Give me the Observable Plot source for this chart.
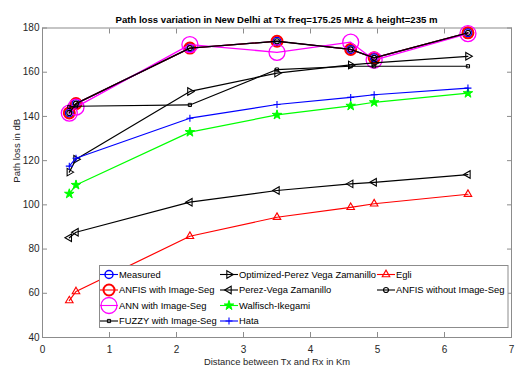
<!DOCTYPE html>
<html><head><meta charset="utf-8">
<script src="https://cdn.jsdelivr.net/npm/d3@7"></script>
<script src="https://cdn.jsdelivr.net/npm/@observablehq/plot@0.6"></script>
<style>
body{margin:0;background:#fff;font-family:"Liberation Sans",Arial,sans-serif;}
#wrap{position:relative;width:516px;height:369px;overflow:hidden;}
#title{height:27px;width:516px;position:relative;}
#title span{position:absolute;left:42px;width:469px;text-align:center;top:14px;font-weight:bold;font-size:9.6px;line-height:12px;color:#000;white-space:nowrap;}
#legend{position:absolute;left:0;top:0;pointer-events:none;}
</style></head><body>
<div id="wrap"><div id="title"><span id="titleText"></span></div><div id="chart"></div><svg id="legend" width="516" height="369"></svg></div>
<script>
const titleText = "Path loss variation in New Delhi at Tx freq=175.25 MHz & height=235 m";
const xLabel = "Distance between Tx and Rx in Km";
const yLabel = "Path loss in dB";
const xTicks = [0, 1, 2, 3, 4, 5, 6, 7];
const yTicks = [40, 60, 80, 100, 120, 140, 160, 180];

const distance = [0.4, 0.5, 2.2, 3.5, 4.6, 4.95, 6.35];
const measured = [141.6, 145.8, 170.9, 174.0, 170.3, 166.5, 177.8];
const anfisSeg = [141.6, 145.8, 170.9, 174.0, 170.3, 166.5, 177.8];
const annSeg = [141.5, 144.2, 172.5, 169.0, 173.6, 165.5, 177.5];
const fuzzySeg = [144.3, 144.6, 145.2, 161.2, 162.7, 162.7, 162.7];
const optPerez = [114.8, 120.6, 151.3, 159.6, 163.3, 164.2, 167.2];
const perezVega = [85.1, 87.6, 101.2, 106.5, 109.5, 110.2, 113.7];
const walfisch = [105.0, 109.0, 132.9, 140.7, 144.8, 146.4, 150.5];
const hata = [117.5, 121.1, 139.2, 145.4, 148.6, 149.8, 152.8];
const egli = [56.7, 60.8, 85.8, 94.4, 98.9, 100.5, 104.8];
const anfisNoSeg = [141.6, 145.8, 170.9, 174.0, 170.3, 166.5, 177.8];

const series = [
  {name: "Measured", values: measured, color: "#0000ff", symbol: "circle", r: 4, sw: 1.5, lw: 1.2},
  {name: "ANFIS with Image-Seg", values: anfisSeg, color: "#ff0000", symbol: "circle", r: 5.5, sw: 2, lw: 1.2},
  {name: "ANN with Image-Seg", values: annSeg, color: "#ff00ff", symbol: "circle", r: 8, sw: 1.3, lw: 1.3},
  {name: "FUZZY with Image-Seg", values: fuzzySeg, color: "#000000", symbol: "square", r: 1.8, sw: 1, lw: 1.2},
  {name: "Optimized-Perez Vega Zamanillo", values: optPerez, color: "#000000", symbol: "triangle", r: 2.8, sw: 1.1, lw: 1.2, rotate: 90},
  {name: "Perez-Vega Zamanillo", values: perezVega, color: "#000000", symbol: "triangle", r: 2.8, sw: 1.1, lw: 1.2, rotate: -90},
  {name: "Walfisch-Ikegami", values: walfisch, color: "#00ff00", symbol: "star", r: 3, sw: 1, lw: 1.2, fill: "#00ff00"},
  {name: "Hata", values: hata, color: "#0000ff", symbol: "plus", r: 2.4, sw: 1.1, lw: 1.2},
  {name: "Egli", values: egli, color: "#ff0000", symbol: "triangle", r: 2.8, sw: 1.1, lw: 1.2},
  {name: "ANFIS without Image-Seg", values: anfisNoSeg, color: "#000000", symbol: "circle", r: 2.5, sw: 1.2, lw: 1.3}
];

document.getElementById("titleText").textContent = titleText;

const marks = [Plot.frame({stroke: "#8c8c8c"})];
series.forEach(s => {
  const rows = distance.map((d, i) => ({x: d, y: s.values[i]}));
  marks.push(Plot.line(rows, {x: "x", y: "y", stroke: s.color, strokeWidth: s.lw}));
  marks.push(Plot.dot(rows, {x: "x", y: "y", symbol: s.symbol, r: s.r, stroke: s.color, strokeWidth: s.sw, fill: s.fill || "none", rotate: s.rotate || 0}));
});
marks.push(
  Plot.axisX({ticks: xTicks, tickSize: 0, tickPadding: 8, tickFormat: d => d, label: null, fontSize: 10}),
  Plot.axisX({ticks: xTicks, tickSize: -5, tickFormat: () => "", label: null, stroke: "#8c8c8c"}),
  Plot.axisX({anchor: "top", ticks: xTicks, tickSize: -5, tickFormat: () => "", label: null, stroke: "#8c8c8c"}),
  Plot.axisY({ticks: yTicks, tickSize: 0, tickPadding: 3, tickFormat: d => d, label: null, fontSize: 10}),
  Plot.axisY({ticks: yTicks, tickSize: -5, tickFormat: () => "", label: null, stroke: "#8c8c8c"}),
  Plot.axisY({anchor: "right", ticks: yTicks, tickSize: -5, tickFormat: () => "", label: null, stroke: "#8c8c8c"}),
  Plot.text([xLabel], {text: d => d, frameAnchor: "bottom", dy: 27.5, fontSize: 9.4, fill: "#262626"}),
  Plot.text([yLabel], {text: d => d, frameAnchor: "left", dx: -26, rotate: -90, fontSize: 9.6, fill: "#262626"})
);

const chart = Plot.plot({
  width: 516,
  height: 342,
  marginLeft: 42,
  marginRight: 5,
  marginTop: 0.5,
  marginBottom: 32,
  x: {domain: [0, 7]},
  y: {domain: [40, 180]},
  style: {fontFamily: "'Liberation Sans', Arial, sans-serif", fontSize: "10px", color: "#262626", overflow: "visible", background: "transparent"},
  marks
});
document.getElementById("chart").appendChild(chart);

// legend
const lg = d3.select("#legend");
lg.append("rect").attr("x", 99.5).attr("y", 265.5).attr("width", 408.5).attr("height", 62)
  .attr("fill", "#fff").attr("stroke", "#8c8c8c").attr("stroke-width", 1);
const symMap = {circle: d3.symbolCircle, square: d3.symbolSquare, triangle: d3.symbolTriangle, star: d3.symbolStar, plus: d3.symbolPlus};
const colX = [100, 220, 377];
const rowY = [274.5, 290, 305.5, 321];
series.forEach((s, i) => {
  const col = i < 4 ? 0 : (i < 8 ? 1 : 2);
  const row = i < 4 ? i : (i < 8 ? i - 4 : i - 8);
  const x0 = colX[col], y0 = rowY[row];
  const g = lg.append("g");
  g.append("line").attr("x1", x0).attr("x2", x0 + 18).attr("y1", y0).attr("y2", y0)
    .attr("stroke", s.color).attr("stroke-width", 1.1);
  g.append("path").attr("d", d3.symbol().type(symMap[s.symbol]).size(Math.PI * s.r * s.r)())
    .attr("transform", `translate(${x0 + 9},${y0}) rotate(${s.rotate || 0})`)
    .attr("fill", s.fill || "none").attr("stroke", s.color).attr("stroke-width", s.sw);
  g.append("text").attr("x", x0 + 19).attr("y", y0).attr("dy", "0.35em")
    .attr("font-size", 9.4).attr("font-family", "'Liberation Sans', Arial, sans-serif").attr("fill", "#000")
    .text(s.name);
});
</script>
</body></html>
